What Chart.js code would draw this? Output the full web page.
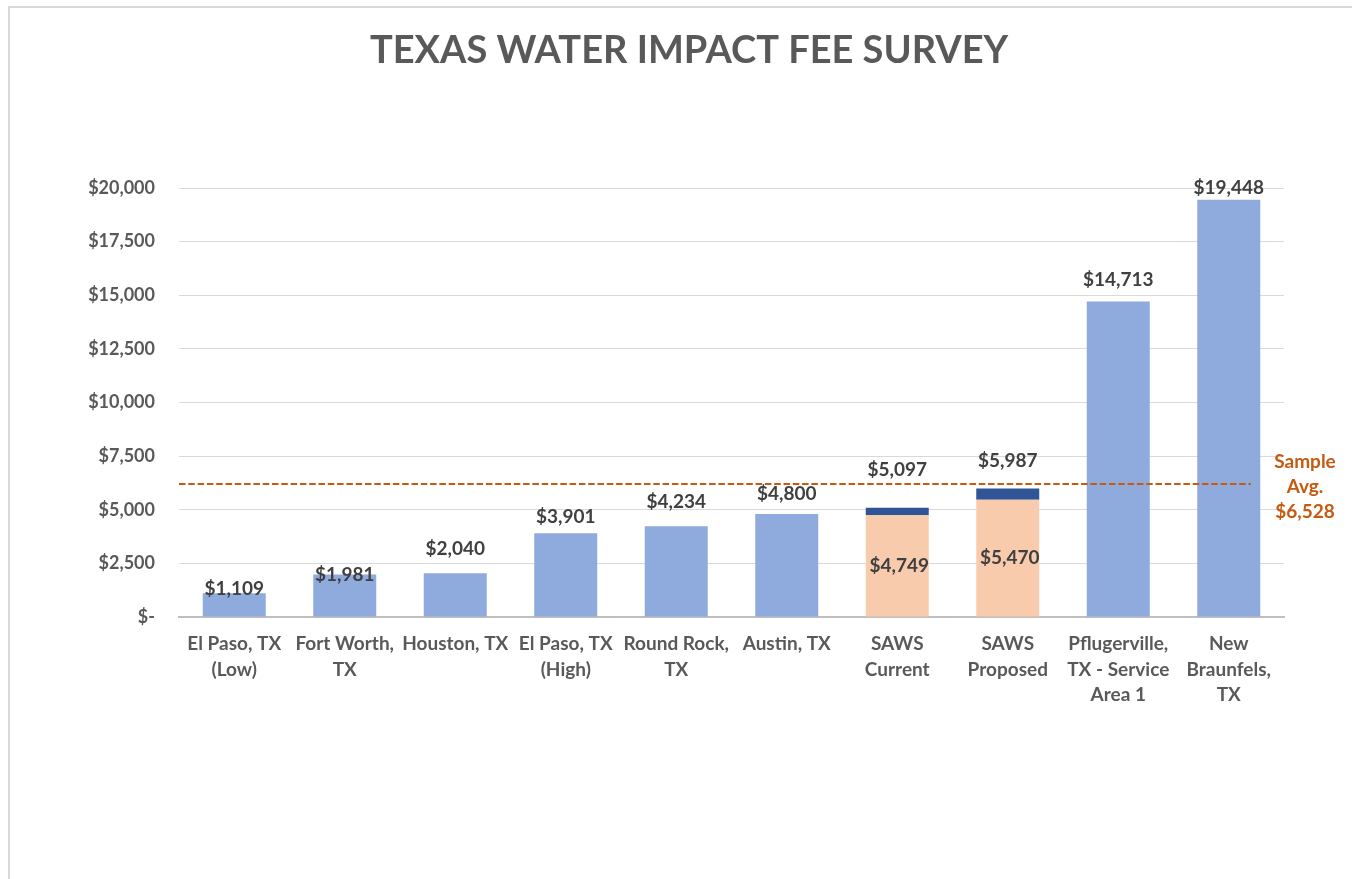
<!DOCTYPE html>
<html lang="en">
<head>
<meta charset="UTF-8">
<title>Texas Water Impact Fee Survey</title>
<script src="https://cdn.jsdelivr.net/npm/chart.js"></script>
<style>
  body { margin: 0; background: #fff; }
  #frame { position: absolute; left: 8px; top: 6px; width: 1400px; height: 900px; border: 2px solid #d9d9d9; }
  #wrap { position: absolute; left: 0; top: 0; width: 1352px; height: 879px; }
</style>
</head>
<body>
<div id="frame"></div>
<div id="wrap"><canvas id="feeChart"></canvas></div>
<script>
// data
const chartTitle = 'TEXAS WATER IMPACT FEE SURVEY';
const categories = [
  ['El Paso, TX', '(Low)'],
  ['Fort Worth,', 'TX'],
  'Houston, TX',
  ['El Paso, TX', '(High)'],
  ['Round Rock,', 'TX'],
  'Austin, TX',
  ['SAWS', 'Current'],
  ['SAWS', 'Proposed'],
  ['Pflugerville,', 'TX - Service', 'Area 1'],
  ['New', 'Braunfels,', 'TX']
];
const cityFees = [1109, 1981, 2040, 3901, 4234, 4800, null, null, 14713, 19448];
const sawsBase = [null, null, null, null, null, null, 4749, 5470, null, null];
const sawsTotal = [null, null, null, null, null, null, 5097, 5987, null, null];
const sampleAvg = 6528;
const avgLineLevel = 6200;        // where the dashed line sits in the picture
const avgLineSpan = [-0.5, 9.2];  // in category units
const yTickStep = 2500;
const yMax = 20000;

// label lift above bar tops (px), Excel labels were nudged by hand
const labelLift = [4, 0, 24, 16, 24, 20, 38, 28, 22, 12];

const sawsAdd = sawsTotal.map((t, i) => (t == null ? null : t - sawsBase[i]));
const money = v => (v === 0 ? '$-' : '$' + v.toLocaleString('en-US'));
const FONT = 'Lato, "Open Sans", sans-serif';

const valueLabels = {
  id: 'valueLabels',
  afterDatasetsDraw(chart) {
    const { ctx, scales: { x, y }, chartArea } = chart;
    ctx.save();
    ctx.textAlign = 'center';
    ctx.textBaseline = 'middle';
    ctx.fillStyle = '#404040';
    ctx.font = 'bold 19px ' + FONT;
    categories.forEach((c, i) => {
      const total = cityFees[i] != null ? cityFees[i] : sawsTotal[i];
      const px = x.getPixelForValue(i);
      ctx.fillText(money(total), px, y.getPixelForValue(total) - labelLift[i]);
      if (sawsBase[i] != null) {
        ctx.fillText(money(sawsBase[i]), px + 2, y.getPixelForValue(sawsBase[i] / 2));
      }
    });
    // sample average note
    const ly = y.getPixelForValue(avgLineLevel);
    const lx = chartArea.right + 21;
    ctx.fillStyle = '#C55A11';
    ctx.fillText('Sample', lx, ly - 22);
    ctx.fillText('Avg.', lx, ly + 3);
    ctx.fillText(money(sampleAvg), lx, ly + 28);

    // title, centred on the whole frame like the original
    ctx.fillStyle = '#595959';
    ctx.font = 'bold 38px ' + FONT;
    ctx.textBaseline = 'alphabetic';
    ctx.fillText(chartTitle, chart.width / 2 + 13, 63);
    ctx.restore();
  }
};

const chart = new Chart(document.getElementById('feeChart'), {
  type: 'bar',
  data: {
    labels: categories,
    datasets: [
      {
        type: 'line',
        label: 'Sample Avg.',
        // raw {x,y} so the fractional category positions are kept
        parsing: false,
        data: avgLineSpan.map(v => ({ x: v, y: avgLineLevel })),
        borderColor: '#C55A11',
        borderWidth: 2,
        borderDash: [6.5, 2.8],
        pointRadius: 0,
        order: 0
      },
      {
        label: 'Impact fee',
        data: cityFees,
        backgroundColor: '#8FAADC',
        order: 1
      },
      {
        label: 'SAWS base',
        data: sawsBase,
        backgroundColor: '#F8CBAD',
        order: 1
      },
      {
        label: 'SAWS increase',
        data: sawsAdd,
        backgroundColor: '#2F5597',
        order: 1
      }
    ]
  },
  options: {
    responsive: true,
    maintainAspectRatio: false,
    animation: false,
    datasets: {
      bar: { categoryPercentage: 1, barPercentage: 0.57 }
    },
    layout: { padding: { left: 0, right: 68, top: 188, bottom: 0 } },
    scales: {
      x: {
        stacked: true,
        grid: { display: false, drawTicks: false },
        border: { color: '#bfbfbf', width: 2 },
        ticks: {
          color: '#595959',
          padding: 14,
          maxRotation: 0,
          autoSkip: false,
          font: { family: FONT, size: 19, weight: 'bold', lineHeight: 1.35 }
        },
        afterFit: s => { s.height = 262; }
      },
      y: {
        stacked: true,
        min: 0,
        max: yMax,
        grid: { color: '#d9d9d9', drawTicks: false },
        border: { display: false },
        ticks: {
          stepSize: yTickStep,
          color: '#595959',
          padding: 24,
          font: { family: FONT, size: 18, weight: 'bold' },
          callback: v => money(v)
        },
        afterFit: s => { s.width = 179; }
      }
    },
    plugins: {
      legend: { display: false },
      tooltip: { enabled: true },
      title: { display: false }
    }
  },
  plugins: [valueLabels]
});
</script>
</body>
</html>
